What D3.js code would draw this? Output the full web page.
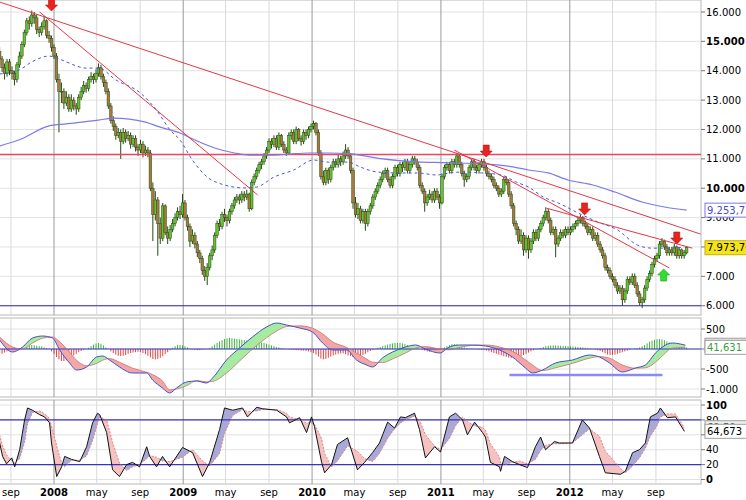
<!DOCTYPE html>
<html><head><meta charset="utf-8">
<script src="https://cdn.jsdelivr.net/npm/d3@7"></script>
<style>body{margin:0;background:#fff;} svg{display:block;font-family:"DejaVu Sans",Verdana,sans-serif;}</style>
</head><body><svg id="c" width="746" height="500"></svg>
<script>
// ---------- DATA ----------
const startDate = new Date(2007, 6, 31); // first weekly bar
const close = [14400,14100,13900,14300,14000,13900,13700,14200,14500,14900,
15300,15700,15600,15900,15800,15400,15300,15500,15700,15200,
15100,14800,14500,13700,13300,13300,12900,13100,12700,13000,
12800,12700,13100,13300,13500,13400,13700,13800,13700,13900,
14100,13800,13600,13300,12800,12300,12100,11800,11900,11600,
11900,11700,11800,11500,11700,11400,11300,11500,11200,11300,
11200,10000,9100,9600,8800,8300,9400,8500,8300,8600,
8800,9000,9200,9100,9500,9000,8700,8200,8400,8100,
7800,7600,7200,7000,7300,7700,7900,8400,8800,8700,
9100,9000,8900,9200,9400,9600,9700,9600,9800,9700,
9800,9300,10200,10400,10600,10800,10900,11100,11300,11600,
11500,11700,11400,11800,11500,11300,11200,11800,11900,11600,
12000,11700,11600,11900,11800,12000,12100,12200,11900,11200,
10400,10200,10600,10300,10700,10900,10800,11000,10900,11100,
11300,11100,10600,9500,9100,9300,8900,9200,8800,9200,
9400,9700,9900,10100,10300,10500,10600,10300,10100,10400,
10700,10500,10800,10700,10900,10600,10800,11000,10900,10700,
10100,9900,9500,9700,9800,9600,9900,9700,9500,10400,
10700,10800,10600,10900,10800,11100,10800,10500,10300,10400,
10700,10900,10700,10600,10800,10900,10700,10500,10400,10300,
10100,10000,9800,9900,10300,10200,9800,9400,8800,8600,
8200,8400,7900,8300,7900,8200,8500,8300,8600,8800,
9000,9200,8900,8500,8600,8100,8300,8500,8400,8600,
8500,8600,8700,8800,8900,9000,8800,8700,8500,8600,
8300,8400,8100,7900,7700,7300,7200,7000,6900,6700,
6500,6600,6200,6500,6900,6800,7000,6700,6400,6100,
6200,6600,6900,7100,7400,7600,7700,8100,8200,8000,
7800,7900,7800,8000,7700,7900,7700,7800,7973.7];
const open = [14650,14400,14100,13900,14300,14000,13900,13700,14200,14500,
14900,15300,15700,15600,15900,15800,15400,15300,15500,15700,
15200,15100,14800,14500,13700,13300,13300,12900,13100,12700,
13000,12800,12700,13100,13300,13500,13400,13700,13800,13700,
13900,14100,13800,13600,13300,12800,12300,12100,11800,11900,
11600,11900,11700,11800,11500,11700,11400,11300,11500,11200,
11300,11200,10000,9100,9600,8800,8300,9400,8500,8300,
8600,8800,9000,9200,9100,9500,9000,8700,8200,8400,
8100,7800,7600,7200,7000,7300,7700,7900,8400,8800,
8700,9100,9000,8900,9200,9400,9600,9700,9600,9800,
9700,9800,9300,10200,10400,10600,10800,10900,11100,11300,
11600,11500,11700,11400,11800,11500,11300,11200,11800,11900,
11600,12000,11700,11600,11900,11800,12000,12100,12200,11900,
11200,10400,10200,10600,10300,10700,10900,10800,11000,10900,
11100,11300,11100,10600,9500,9100,9300,8900,9200,8800,
9200,9400,9700,9900,10100,10300,10500,10600,10300,10100,
10400,10700,10500,10800,10700,10900,10600,10800,11000,10900,
10700,10100,9900,9500,9700,9800,9600,9900,9700,9500,
10400,10700,10800,10600,10900,10800,11100,10800,10500,10300,
10400,10700,10900,10700,10600,10800,10900,10700,10500,10400,
10300,10100,10000,9800,9900,10300,10200,9800,9400,8800,
8600,8200,8400,7900,8300,7900,8200,8500,8300,8600,
8800,9000,9200,8900,8500,8600,8100,8300,8500,8400,
8600,8500,8600,8700,8800,8900,9000,8800,8700,8500,
8600,8300,8400,8100,7900,7700,7300,7200,7000,6900,
6700,6500,6600,6200,6500,6900,6800,7000,6700,6400,
6100,6200,6600,6900,7100,7400,7600,7700,8100,8200,
8000,7800,7900,7800,8000,7700,7900,7700,7800];
const high = [14800,14500,14250,14400,14400,14150,14000,14300,14650,15000,
15400,15800,15850,16050,16000,15900,15500,15650,15850,15750,
15350,15200,14900,14600,13900,13600,13400,13300,13200,13200,
13100,12900,13200,13450,13650,13600,13800,13950,13900,14050,
14250,14200,13900,13700,13400,12900,12450,12200,12050,12000,
12050,12000,11950,11900,11800,11800,11500,11650,11600,11450,
11400,11300,10200,9900,9700,9000,9500,9450,8700,8750,
8950,9150,9350,9400,9800,9600,9100,8800,8600,8500,
8200,7900,7700,7350,7450,7800,8050,8500,8900,8950,
9200,9300,9100,9300,9500,9700,9800,9800,9900,9900,
9950,9850,10300,10500,10700,10900,11000,11200,11400,11700,
11700,11800,11800,11900,11850,11600,11400,11900,12000,12000,
12100,12050,11800,12000,12000,12100,12200,12300,12250,12000,
11300,10600,10700,10700,10800,11000,11000,11150,11100,11250,
11500,11400,11200,10700,9700,9500,9400,9300,9300,9300,
9500,9800,10000,10200,10400,10600,10700,10700,10400,10500,
10800,10800,10900,10900,11000,11000,10900,11100,11100,11000,
10800,10200,10000,9800,9950,9900,10000,10000,9800,10500,
10800,10900,10900,11000,11000,11200,11150,10900,10600,10500,
10800,11000,11000,10800,10900,11000,11000,10800,10600,10500,
10400,10200,10100,10000,10400,10400,10300,9900,9500,8900,
8700,8600,8500,8400,8400,8300,8600,8600,8700,8900,
9100,9350,9300,9000,8700,8700,8400,8600,8600,8700,
8700,8700,8800,8900,9000,9100,9050,8900,8800,8700,
8700,8500,8500,8200,8000,7800,7400,7300,7100,7000,
6800,6700,6700,6600,7000,7000,7100,7100,6800,6500,
6300,6700,7000,7200,7500,7700,7800,8200,8300,8250,
8100,8000,8000,8100,8050,8000,7950,7900,8000];
const low = [14200,13950,13700,13800,13850,13700,13500,13600,14100,14400,
14800,15200,15400,15500,15600,15250,15150,15200,15400,15100,
14950,14650,14400,13600,11900,12900,12700,12800,12600,12600,
12650,12500,12600,13000,13200,13250,13300,13600,13550,13600,
13800,13700,13450,13200,12700,12200,11950,11650,11700,11000,
11500,11550,11600,11350,11400,11250,11100,11200,11050,11100,
11050,9900,8200,8900,7700,8100,8200,8400,8100,8200,
8500,8700,8900,8950,9000,8900,8550,8000,8100,7950,
7650,7450,7050,6850,6700,7200,7550,7800,8300,8550,
8600,8850,8700,8800,9100,9300,9500,9450,9500,9550,
9600,9200,9250,10100,10300,10500,10650,10800,11000,11200,
11350,11400,11300,11300,11400,11200,11100,11150,11650,11500,
11500,11600,11450,11500,11650,11700,11900,12000,11800,11100,
10300,10100,10100,10150,10200,10600,10700,10700,10750,10800,
11000,11000,10500,9300,9000,8950,8800,8800,8550,8700,
9100,9300,9600,9800,10000,10200,10350,10200,10000,10000,
10300,10400,10400,10550,10600,10500,10500,10700,10800,10600,
10000,9800,9200,9400,9600,9500,9500,9600,9300,9450,
10300,10600,10500,10500,10700,10700,10700,10400,10050,10200,
10300,10600,10600,10500,10500,10700,10600,10400,10300,10200,
10000,9900,9700,9700,9800,10100,9700,9300,8700,8400,
8100,8100,7700,7800,7600,7800,8100,8200,8200,8500,
8700,8900,8800,8400,8400,7650,8000,8200,8300,8300,
8400,8400,8500,8600,8700,8800,8700,8600,8400,8400,
8200,8200,8000,7800,7600,7200,7100,6900,6800,6600,
6400,6400,6000,6100,6400,6700,6700,6600,6300,6000,
5920,6100,6500,6800,7000,7300,7500,7600,8000,7900,
7700,7700,7700,7700,7600,7600,7600,7600,7750];

const maSlowWeek = [0,8,20,27,40,46,59,65,73,79,87,95,101,111,117,125,133,142,155,169,179,195,205,214,222,230,240,249,260,269,278];
const maSlowValue = [11440,11650,12120,12190,12320,12390,12250,12080,11880,11640,11370,11200,11130,11130,11160,11200,11200,11170,11000,10900,10870,10830,10760,10620,10520,10280,10110,9870,9530,9360,9253.7];
const maFastWeek = [0,8,13,20,22,27,35,40,47,57,64,69,73,78,84,91,99,104,111,119,127,133,141,146,153,162,169,177,182,187,195,203,209,214,220,226,234,242,250,258,264,272,277];
const maFastValue = [13890,14030,14300,14500,14470,14300,14090,14090,13690,13240,12600,11980,11640,10960,10380,10110,10010,10040,10380,10620,10960,10890,10890,10720,10550,10520,10520,10450,10520,10550,10520,10450,10210,10040,9700,9500,9160,8850,8580,8070,7960,7960,8000];

// trend lines: [week, value] start and end
const trendStart = [[0,16340],[16.2,16000],[184,11300],[221.3,9320]];
const trendEnd   = [[283.6,8440],[104.4,9770],[271,7284],[280.3,7960]];
const resistanceLevel = 11180;
const supportLevel = 6000;
const arrowsDown = [[21,16034],[196.9,11060],[236.7,9090],[274,8100]];
const arrowsUp = [[268.7,7250]];

const macdWeek = [0,5.3,9.3,13.3,17.4,21.4,24.3,28.3,31.1,35.2,39.2,41.7,44.5,48.5,53.8,59.5,61.9,65.9,68.8,71.6,75.6,79.7,83.7,86.2,91.8,97.1,102.3,108,112.1,116.1,121.4,126.6,130.7,134.7,140.4,144.4,148.5,150.9,154.9,159,164.2,168.3,172.3,178,182,186.1,191.3,196.6,202.3,207.5,212.8,215.6,219.7,224.9,231.8,238.7,242.7,246.8,252,257.3,261.3,265.4,268.2,272.2,277.5];
const macdValue = [225,-75,50,275,325,275,-25,-350,-525,-450,-200,-175,-275,-450,-600,-600,-775,-975,-1100,-975,-825,-800,-850,-725,-275,25,300,550,650,600,525,425,150,-25,-25,-275,-400,-450,-225,-75,50,100,0,-100,50,100,100,75,-25,-200,-475,-600,-525,-350,-275,-150,-200,-350,-575,-475,-400,-100,50,150,95];
const macdSignal = [300,50,0,150,270,300,180,-80,-280,-420,-360,-280,-240,-330,-480,-580,-640,-800,-1020,-1000,-920,-790,-820,-810,-600,-300,0,280,450,560,580,520,380,180,40,-100,-250,-330,-340,-250,-100,20,60,0,-20,40,90,100,50,-60,-270,-400,-540,-470,-360,-230,-190,-230,-400,-480,-470,-330,-170,20,41.631];
const macdHist = [-100,-120,-90,-60,-50,-40,-30,-10,20,40,
60,80,90,100,90,80,70,60,40,20,
10,-60,-120,-200,-260,-300,-300,-280,-250,-200,
-160,-120,-80,-50,-20,0,30,70,110,140,
150,130,90,40,0,-60,-100,-140,-170,-180,
-170,-150,-120,-100,-90,-80,-70,-80,-100,-130,
-170,-210,-250,-260,-250,-220,-180,-130,-80,-30,
30,70,100,100,90,70,40,10,-10,-20,
-30,-30,-20,-10,0,30,70,110,150,190,
220,250,265,275,270,260,250,240,230,220,
210,200,190,185,180,170,160,150,130,110,
90,70,50,40,25,10,0,-10,-20,-20,
-30,-30,-40,-40,-50,-60,-80,-100,-140,-190,
-240,-260,-250,-220,-190,-160,-140,-120,-110,-110,
-130,-160,-180,-200,-200,-190,-170,-150,-120,-80,
-50,-20,10,30,50,70,90,110,130,140,
150,155,150,140,120,100,80,60,40,20,
0,-20,-40,-60,-70,-60,-50,-30,-10,10,
40,70,100,120,125,110,90,60,40,20,
10,5,0,-5,-10,-20,-30,-40,-60,-80,
-100,-120,-140,-160,-180,-200,-215,-225,-225,-215,
-200,-180,-150,-120,-90,-60,-30,-10,10,30,
50,70,80,90,90,90,85,80,75,70,
70,65,60,55,50,45,40,30,20,10,
0,-10,-30,-50,-80,-110,-140,-150,-150,-140,
-120,-100,-80,-60,-40,-20,0,10,20,40,
70,100,140,180,210,230,245,250,240,220,
190,160,130,110,90,70,60,50,40];
const macdSupport = [[206.3,-650],[268.2,-650]];

const stochWeek = [0,1.2,2.8,4.9,6.1,8.1,10.1,11.3,13.3,16.2,18.2,20.2,21,23.1,25.1,26.3,29.1,32.4,35.2,37.6,39.6,40.5,43.3,45.7,48.5,51.4,53.8,56.6,59.5,60.7,63.5,65.9,68.8,74,78.1,82.1,85,89,91,94.3,98.3,100.3,104,106.4,112.1,116.1,117.3,121.4,124.2,126.2,127.4,130.3,131.5,134.3,136.7,140.8,144.8,147.7,150.9,153.7,157,159.8,162.2,164.2,167.9,169.9,172.3,176,178.4,182,184.5,187.3,189.3,192.2,195.4,196.6,198.6,202.3,202.7,204.3,207.5,210.4,213.6,216.8,218.9,220.9,224.5,226.5,231.8,235.8,238.7,242.7,245.1,251.2,253.2,256.1,258.9,261.3,263.3,266.2,267.4,270.2,273.5,277.1];
const stochK = [49,31,21,29,17,40,80,96,93,87,84,76,49,4,17,31,27,24,44,76,89,87,63,13,4,20,23,17,44,31,17,31,17,43,36,4,23,67,96,93,96,84,97,95,93,84,76,83,63,84,71,23,9,20,47,56,13,23,36,49,77,69,84,83,89,67,29,44,37,84,89,80,60,77,63,57,23,17,11,31,24,20,16,44,57,40,51,49,49,80,69,31,9,7,11,36,40,49,84,89,96,83,84,64.673];
const stochD = [60,45,33,25,22,28,50,75,90,92,88,82,72,45,22,17,26,26,32,52,75,84,80,50,22,12,17,20,28,32,30,25,24,30,40,25,18,35,62,86,94,91,92,94,94,89,84,80,76,76,74,55,35,17,25,45,38,28,24,35,55,68,76,80,85,80,60,45,40,55,72,84,78,72,70,66,48,30,22,20,23,25,21,27,39,46,48,48,49,60,68,58,38,15,9,18,29,42,58,73,84,88,88,69.5];

const priceTicks = [6000,7000,8000,9000,10000,11000,12000,13000,14000,15000,16000];
const priceBoldTicks = [10000,15000];
const macdTicks = [500,0,-500,-1000];
const stochTicks = [0,20,40,60,80,100];
const stochBoldTicks = [0,100];
const stochBands = [20,80];
const monthTickLabels = ["sep","2008","may","sep","2009","may","sep","2010","may","sep","2011","may","sep","2012","may","sep"];

// ---------- SETUP ----------
const svg = d3.select('#c');
const R = 701;
const P = {main:[0,315], macd:[318,397], stoch:[400,484]};
const loc = d3.formatLocale({decimal:",", thousands:".", grouping:[3], currency:["",""], minus:"-"});
const fmtInt = loc.format(",.0f");
const dateOf = w => new Date(startDate.getTime() + w*7*864e5);
const x = d3.scaleTime().domain([new Date(2008,0,1), new Date(2013,0,1)]).range([54,699]);
const xw = w => x(dateOf(w));
const yP = d3.scaleLinear().domain([6000,16000]).range([305.7,12]);
const yM = d3.scaleLinear().domain([-1000,500]).range([389,329]);
const yS = d3.scaleLinear().domain([0,100]).range([479.5,405]);
const monthTicks = d3.timeMonth.every(4).range(new Date(2007,8,1), new Date(2012,9,2));

const defs = svg.append('defs');
Object.entries(P).forEach(([k,[t,b]])=>{
  defs.append('clipPath').attr('id','clip-'+k).append('rect').attr('x',0).attr('y',t).attr('width',R).attr('height',b-t);
});

// panel frames and grids
Object.entries(P).forEach(([k,[t,b]])=>{
  const g = svg.append('g');
  g.append('rect').attr('x',-1).attr('y',t).attr('width',R+1).attr('height',b-t).attr('fill','#fff').attr('stroke','#b8b8b8');
  const hv = k==='main'?priceTicks.map(yP):k==='macd'?macdTicks.map(yM):stochTicks.map(yS);
  g.append('g').selectAll('line').data(hv).join('line').attr('x1',0).attr('x2',R).attr('y1',d=>d).attr('y2',d=>d).attr('stroke','#e2e2e2');
  g.append('g').selectAll('line').data(monthTicks).join('line')
    .attr('x1',d=>x(d)).attr('x2',d=>x(d)).attr('y1',t).attr('y2',b)
    .attr('stroke',d=>d.getMonth()===0?'#9a9a9a':'#dadada');
});

// ---------- MAIN PANEL ----------
const gMain = svg.append('g').attr('clip-path','url(#clip-main)');
gMain.append('line').attr('x1',0).attr('x2',R).attr('y1',yP(supportLevel)).attr('y2',yP(supportLevel)).attr('stroke','#2a2ab2').attr('stroke-width',1.1);

const idx = d3.range(close.length);
const cg = gMain.append('g');
cg.append('g').selectAll('line').data(idx).join('line')
  .attr('x1',i=>xw(i)).attr('x2',i=>xw(i)).attr('y1',i=>yP(high[i])).attr('y2',i=>yP(low[i]))
  .attr('stroke','#244a12').attr('stroke-width',1);
cg.append('g').selectAll('rect').data(idx).join('rect')
  .attr('x',i=>xw(i)-1.3).attr('width',2.6)
  .attr('y',i=>yP(Math.max(open[i],close[i])))
  .attr('height',i=>Math.max(0.8, yP(Math.min(open[i],close[i]))-yP(Math.max(open[i],close[i]))))
  .attr('fill',i=>close[i]>=open[i]?'#62c232':'#a87a40').attr('stroke','#244a12').attr('stroke-width',0.5);

const yRes = Math.round(yP(resistanceLevel)) + 0.5;
gMain.append('line').attr('x1',0).attr('x2',R).attr('y1',yRes).attr('y2',yRes).attr('stroke','#f0445e').attr('stroke-width',1.3);

const ln = d3.line().x(d=>xw(d[0])).y(d=>yP(d[1])).curve(d3.curveMonotoneX);
gMain.append('path').attr('d',ln(maSlowWeek.map((w,i)=>[w,maSlowValue[i]]))).attr('fill','none').attr('stroke','#7a7aea').attr('stroke-width',1.2);
gMain.append('path').attr('d',ln(maFastWeek.map((w,i)=>[w,maFastValue[i]]))).attr('fill','none').attr('stroke','#4a58d4').attr('stroke-width',1).attr('stroke-dasharray','3,3');

gMain.append('g').selectAll('line').data(trendStart.map((s,i)=>[s,trendEnd[i]])).join('line')
  .attr('x1',d=>xw(d[0][0])).attr('y1',d=>yP(d[0][1])).attr('x2',d=>xw(d[1][0])).attr('y2',d=>yP(d[1][1]))
  .attr('stroke','#e23848').attr('stroke-width',1);

const downArrow = 'M0,0 L-6,-6 L-3,-6 L-3,-12 L3,-12 L3,-6 L6,-6 Z';
const upArrow = 'M0,0 L-6,6 L-3,6 L-3,12 L3,12 L3,6 L6,6 Z';
svg.append('g').selectAll('path').data(arrowsDown).join('path')
  .attr('d',downArrow).attr('transform',d=>`translate(${xw(d[0])},${yP(d[1])})`)
  .attr('fill','#e8241e').attr('stroke','#b01414').attr('stroke-width',0.6);
svg.append('g').selectAll('path').data(arrowsUp).join('path')
  .attr('d',upArrow).attr('transform',d=>`translate(${xw(d[0])},${yP(d[1])})`)
  .attr('fill','#2ee02e').attr('stroke','#18a018').attr('stroke-width',0.6);

// ---------- MACD PANEL ----------
const gM = svg.append('g').attr('clip-path','url(#clip-macd)');
gM.append('g').selectAll('line').data(idx).join('line')
  .attr('x1',i=>xw(i)).attr('x2',i=>xw(i)).attr('y1',yM(0)).attr('y2',i=>yM(macdHist[i]))
  .attr('stroke',i=>macdHist[i]>=0?'#3cb43c':'#e04444').attr('stroke-width',1);
const mp = macdWeek.map((w,i)=>({x:xw(w), m:yM(macdValue[i]), s:yM(macdSignal[i])}));
const cv = d3.curveMonotoneX;
defs.append('clipPath').attr('id','m-up').append('path').attr('d',d3.area().x(d=>d.x).y0(P.macd[1]).y1(d=>d.m).curve(cv)(mp));
defs.append('clipPath').attr('id','m-dn').append('path').attr('d',d3.area().x(d=>d.x).y0(P.macd[0]).y1(d=>d.m).curve(cv)(mp));
const between = d3.area().x(d=>d.x).y0(d=>d.s).y1(d=>d.m).curve(cv)(mp);
gM.append('g').attr('clip-path','url(#m-up)').append('path').attr('d',between).attr('fill','#a6eca0');
gM.append('g').attr('clip-path','url(#m-dn)').append('path').attr('d',between).attr('fill','#f3a6a6');
gM.append('line').attr('x1',0).attr('x2',R).attr('y1',yM(0)).attr('y2',yM(0)).attr('stroke','#3636b6').attr('stroke-width',1.1);
gM.append('path').attr('d',d3.line().x(d=>d.x).y(d=>d.s).curve(cv)(mp)).attr('fill','none').attr('stroke','#cc7070').attr('stroke-width',0.8);
gM.append('path').attr('d',d3.line().x(d=>d.x).y(d=>d.m).curve(cv)(mp)).attr('fill','none').attr('stroke','#4250cc').attr('stroke-width',1);
gM.append('line').attr('x1',xw(macdSupport[0][0])).attr('x2',xw(macdSupport[1][0]))
  .attr('y1',yM(macdSupport[0][1])).attr('y2',yM(macdSupport[1][1])).attr('stroke','#8a8af6').attr('stroke-width',2.4);

// ---------- STOCHASTIC PANEL ----------
const gS = svg.append('g').attr('clip-path','url(#clip-stoch)');
const sp = stochWeek.map((w,i)=>({x:xw(w), k:yS(stochK[i]), d:yS(stochD[i])}));
defs.append('clipPath').attr('id','s-up').append('path').attr('d',d3.area().x(d=>d.x).y0(P.stoch[1]).y1(d=>d.k)(sp));
defs.append('clipPath').attr('id','s-dn').append('path').attr('d',d3.area().x(d=>d.x).y0(P.stoch[0]).y1(d=>d.k)(sp));
const sb = d3.area().x(d=>d.x).y0(d=>d.d).y1(d=>d.k)(sp);
gS.append('g').attr('clip-path','url(#s-up)').append('path').attr('d',sb).attr('fill','#a9a9d8');
gS.append('g').attr('clip-path','url(#s-dn)').append('path').attr('d',sb).attr('fill','#f5c2c2');
gS.append('g').selectAll('line').data(stochBands).join('line').attr('x1',0).attr('x2',R).attr('y1',d=>yS(d)).attr('y2',d=>yS(d)).attr('stroke','#3636b6').attr('stroke-width',1.1);
gS.append('path').attr('d',d3.line().x(d=>d.x).y(d=>d.d)(sp)).attr('fill','none').attr('stroke','#e07878').attr('stroke-width',0.9).attr('stroke-dasharray','2,1.5');
gS.append('path').attr('d',d3.line().x(d=>d.x).y(d=>d.k)(sp)).attr('fill','none').attr('stroke','#111').attr('stroke-width',1);

// ---------- AXES / LABELS ----------
const ax = svg.append('g').attr('font-size',10).attr('fill','#000');
function yLabels(ticks, scale, fmt, bold){
  ticks.forEach(t=>{
    ax.append('line').attr('x1',R).attr('x2',R+4).attr('y1',scale(t)).attr('y2',scale(t)).attr('stroke','#777');
    ax.append('text').attr('x',R+5).attr('y',scale(t)+3.6).text(fmt(t)).attr('font-weight',bold.includes(t)?'bold':'normal');
  });
}
yLabels(priceTicks, yP, fmtInt, priceBoldTicks);
yLabels(macdTicks, yM, fmtInt, []);
yLabels(stochTicks, yS, d3.format('d'), stochBoldTicks);

function valueBox(yv, txt, fill, stroke, color){
  const g = svg.append('g');
  g.append('rect').attr('x',R+4).attr('y',yv-7).attr('width',46).attr('height',14).attr('fill',fill).attr('stroke',stroke);
  g.append('text').attr('x',R+6).attr('y',yv+3.6).attr('font-size',10).attr('fill',color).text(txt);
}
const f1 = loc.format(",.1f"), f2 = loc.format(",.2f"), f3 = loc.format(",.3f");
const lastSlow = maSlowValue[maSlowValue.length-1];
const lastClose = close[close.length-1];
valueBox(yP(lastSlow), f1(lastSlow), '#fff', '#7a7aea', '#4a4ad0');
valueBox(yP(lastClose), f2(lastClose), '#f4e41c', '#c4b000', '#000');
valueBox(yM(macdValue[macdValue.length-1]), f3(macdValue[macdValue.length-1]), '#e4e4e4', '#a0a0a0', '#555');
valueBox(yM(macdSignal[macdSignal.length-1]), f3(macdSignal[macdSignal.length-1]), '#fff', '#a0a0a0', '#3ca03c');
valueBox(yS(stochD[stochD.length-1]), f2(stochD[stochD.length-1]), '#eee', '#a0a0a0', '#555');
valueBox(yS(stochK[stochK.length-1]), f3(stochK[stochK.length-1]), '#fff', '#a0a0a0', '#000');

svg.append('g').selectAll('text').data(monthTicks).join('text')
  .attr('x',d=>x(d)).attr('y',496).attr('text-anchor','middle').attr('font-size',10)
  .attr('font-weight',d=>d.getMonth()===0?'bold':'normal')
  .text((d,i)=>monthTickLabels[i]);
</script></body></html>
